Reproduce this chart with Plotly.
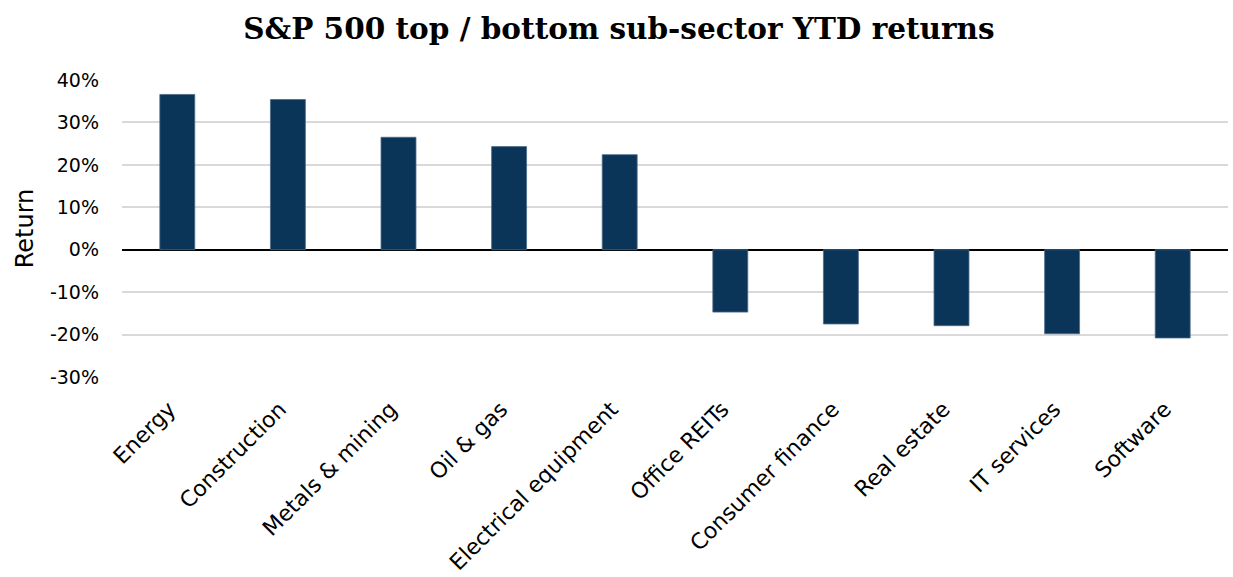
import plotly.graph_objects as go

categories = ["Energy", "Construction", "Metals & mining", "Oil & gas", "Electrical equipment",
              "Office REITs", "Consumer finance", "Real estate", "IT services", "Software"]
returns = [36.6, 35.4, 26.5, 24.3, 22.4, -14.7, -17.5, -17.9, -19.8, -20.8]
tick_vals = [-30, -20, -10, 0, 10, 20, 30, 40]
tick_text = ["-30%", "-20%", "-10%", "0%", "10%", "20%", "30%", "40%"]

fig = go.Figure(go.Bar(
    x=categories, y=returns,
    marker=dict(color="#0b3558", line=dict(color="#4a6a88", width=0.8)),
    hoverinfo="x+y",
))

fig.update_layout(
    width=1233, height=577,
    margin=dict(l=122, r=5, t=80, b=200, autoexpand=False),
    paper_bgcolor="white", plot_bgcolor="white",
    bargap=0.684,
    showlegend=False,
    title=dict(text="<b>S&P 500 top / bottom sub-sector YTD returns</b>",
               x=0.502, xref="container", xanchor="center",
               y=0.951, yref="container", yanchor="middle",
               font=dict(family="DejaVu Serif", size=29.5, color="black")),
    font=dict(family="DejaVu Sans", color="black"),
)
fig.update_yaxes(
    range=[-30, 40], tickvals=tick_vals, ticktext=tick_text,
    showgrid=True, gridcolor="#d9d9d9", gridwidth=1.5,
    zeroline=True, zerolinecolor="black", zerolinewidth=2,
    tickfont=dict(size=19, color="black"), ticks="", ticklen=0,
    ticklabelstandoff=22, automargin=False,
    title=dict(text="Return", font=dict(size=24, color="black"), standoff=9),
    showline=False,
)
fig.update_xaxes(
    tickangle=-45, tickfont=dict(size=22, color="black"),
    showline=False, ticks="", ticklabelstandoff=14, ticklabelshift=-8,
    automargin=False,
)

fig.write_html("out.html")
